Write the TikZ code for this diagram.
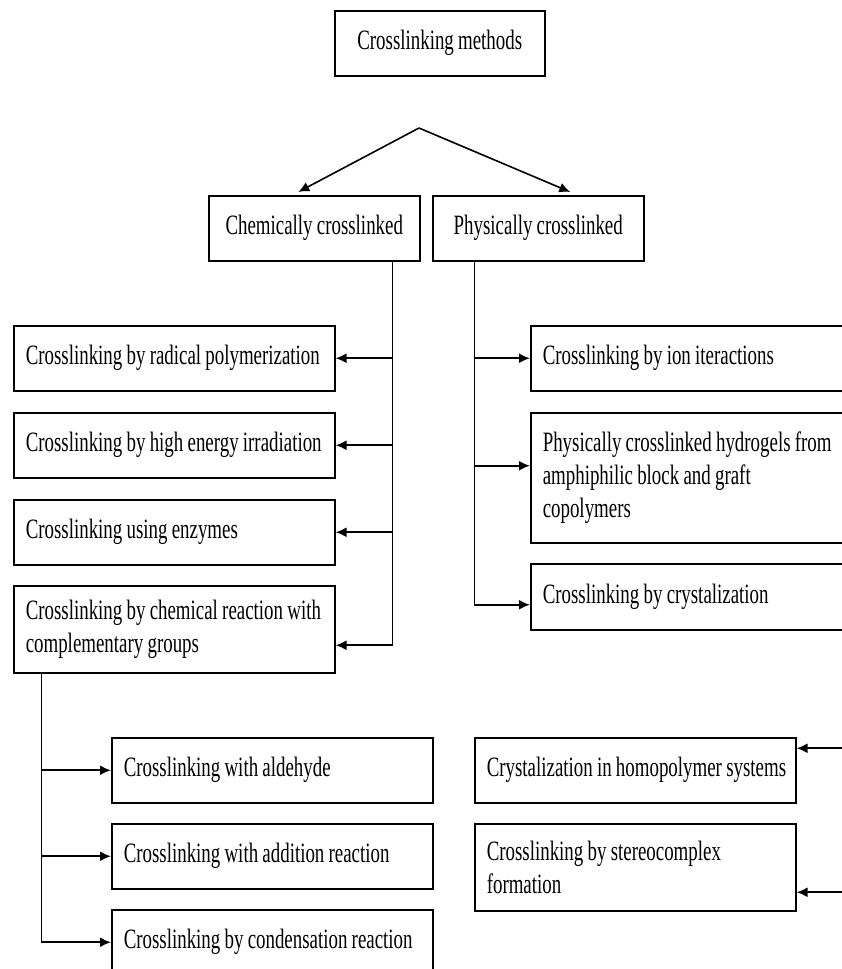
\documentclass[tikz,border=0pt]{standalone}
\usepackage{fontspec}
\setmainfont{Liberation Serif}[FakeStretch=0.675, WordSpace=0.9]
\usepackage{tikz}
\usetikzlibrary{arrows.meta}

\tikzset{
  basebox/.style={draw, line width=1.5pt, anchor=north west, inner ysep=0pt,
    font=\fontsize{28}{33}\selectfont},
  headbox/.style={basebox, align=center, minimum height=65pt},
  methodbox/.style={basebox, align=flush left, inner xsep=6pt, text width=309pt,
    minimum height=65pt, execute at begin node={\leftskip=6pt}},
  widebox/.style={methodbox, text width=328pt},
  stem/.style={line width=1pt},
  fork/.style={line width=1.6pt, -{Latex[length=11pt,width=10pt]}},
  branch/.style={line width=2pt, -{Latex[length=11pt,width=10pt]}},
}

\begin{document}
\begin{tikzpicture}[x=1pt, y=-1pt]

% Page frame
\path[use as bounding box, clip] (0,0) rectangle (842,969);

% Top level boxes
\node[headbox, minimum width=210pt] (methods) at (334,10) {Crosslinking methods};
\node[headbox, minimum width=211pt] (chem) at (208,195) {Chemically crosslinked};
\node[headbox, minimum width=211pt] (phys) at (432,195) {Physically crosslinked};

% Split into the two groups
\coordinate (apex) at (419,128);
\coordinate (chemTip) at ([xshift=-16pt,yshift=3pt]chem.north);
\coordinate (physTip) at ([xshift=32pt,yshift=3pt]phys.north);
\draw[fork] (apex) -- (chemTip);
\draw[fork] (apex) -- (physTip);

% Chemical methods
\node[methodbox] (radical) at (13,325) {Crosslinking by radical polymerization};
\node[methodbox] (irrad) at (13,412) {Crosslinking by high energy irradiation};
\node[methodbox] (enzyme) at (13,499) {Crosslinking using enzymes};
\node[methodbox, minimum height=87pt] (complem) at (13,585) {Crosslinking by chemical reaction with\\complementary groups};

% Physical methods
\node[widebox, minimum width=340pt] (ion) at (530,325) {Crosslinking by ion iteractions};
\node[widebox, minimum width=340pt, minimum height=130pt] (amphi) at (530,412) {Physically crosslinked hydrogels from\\amphiphilic block and graft\\copolymers};
\node[widebox, minimum width=340pt, minimum height=66pt] (crystal) at (530,563) {Crosslinking by crystalization};

% Complementary groups
\node[methodbox] (aldehyde) at (111,737) {Crosslinking with aldehyde};
\node[methodbox] (addition) at (111,823) {Crosslinking with addition reaction};
\node[methodbox] (condens) at (111,909) {Crosslinking by condensation reaction};

% Crystalization
\node[methodbox] (homo) at (474,737) {Crystalization in homopolymer systems};
\node[methodbox, minimum height=87pt] (stereo) at (474,823) {Crosslinking by stereocomplex\\formation};

% Chemical stem and arrows
\coordinate (chemStem) at ([xshift=-28pt]chem.south east);
\coordinate (complemIn) at ([yshift=-16pt]complem.east);
\draw[stem] (chemStem) -- (chemStem |- complemIn);
\draw[branch] (chemStem |- radical.east) -- (radical.east);
\draw[branch] (chemStem |- irrad.east) -- (irrad.east);
\draw[branch] (chemStem |- enzyme.east) -- (enzyme.east);
\draw[branch] (chemStem |- complemIn) -- (complemIn);

% Physical stem and arrows
\coordinate (physStem) at ([xshift=42pt]phys.south west);
\coordinate (amphiIn) at ([yshift=12pt]amphi.west);
\coordinate (crystalIn) at ([yshift=-8pt]crystal.west);
\draw[stem] (physStem) -- (physStem |- crystalIn);
\draw[branch] (physStem |- ion.west) -- (ion.west);
\draw[branch] (physStem |- amphiIn) -- (amphiIn);
\draw[branch] (physStem |- crystalIn) -- (crystalIn);

% Complementary groups stem and arrows
\coordinate (subStem) at ([xshift=28pt]complem.south west);
\draw[stem] (subStem) -- (subStem |- condens.west);
\draw[branch] (subStem |- aldehyde.west) -- (aldehyde.west);
\draw[branch] (subStem |- addition.west) -- (addition.west);
\draw[branch] (subStem |- condens.west) -- (condens.west);

% Arrows coming in from the right
\coordinate (homoIn) at ([yshift=22pt]homo.east);
\coordinate (stereoIn) at ([yshift=-25pt]stereo.east);
\coordinate (homoSrc) at ([xshift=60pt]homoIn);
\coordinate (stereoSrc) at ([xshift=60pt]stereoIn);
\draw[branch] (homoSrc) -- (homoIn);
\draw[branch] (stereoSrc) -- (stereoIn);

\end{tikzpicture}
\end{document}
